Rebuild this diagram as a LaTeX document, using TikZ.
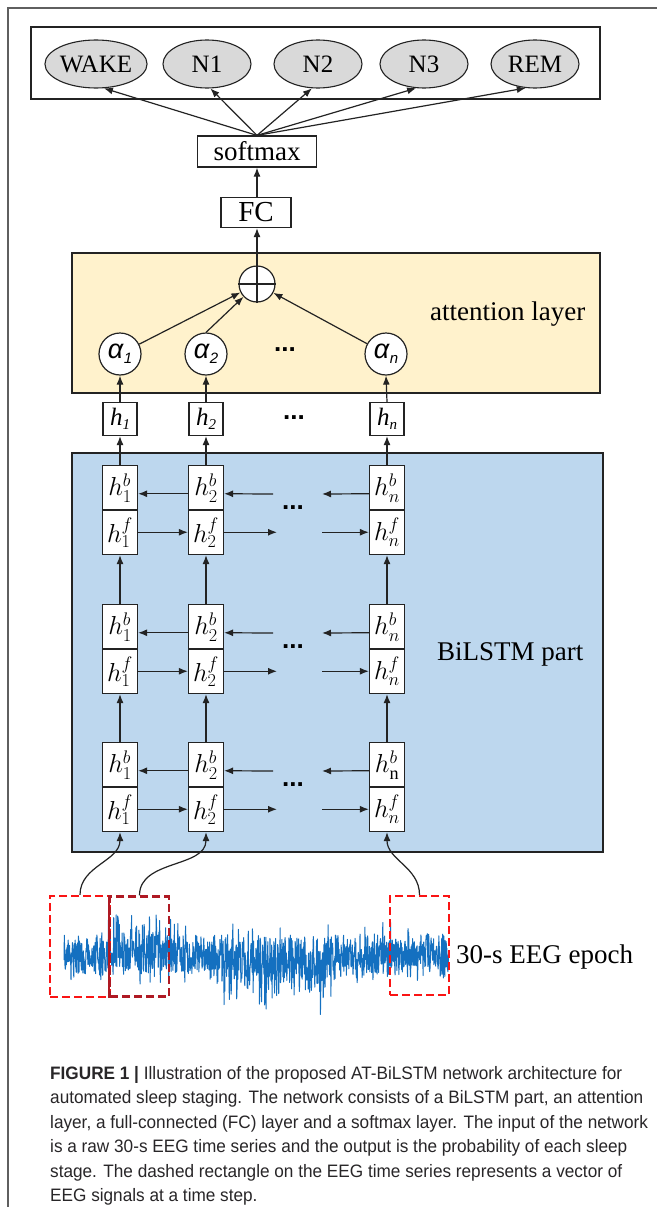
\RequirePackage{fix-cm}
\documentclass[tikz,border=0pt]{standalone}
\usepackage{fontspec}
\usepackage{graphicx}
\setmainfont{Liberation Serif}
\newfontfamily\capfont{Liberation Sans}
\newfontfamily\greekfont{Liberation Sans}
\usetikzlibrary{arrows.meta,shapes.geometric,calc}

\definecolor{framegray}{RGB}{95,95,95}
\definecolor{edge}{RGB}{35,35,35}
\definecolor{stagefill}{RGB}{217,217,217}
\definecolor{attfill}{RGB}{255,242,204}
\definecolor{lstmfill}{RGB}{189,215,238}
\definecolor{eegblue}{RGB}{20,112,192}
\definecolor{winred}{RGB}{250,20,20}
\definecolor{windark}{RGB}{175,25,35}
\definecolor{captext}{RGB}{40,38,40}

\newcommand{\fs}[1]{\fontsize{#1}{#1}\selectfont}
\newlength{\capw}

\tikzset{
  stage/.style={ellipse, draw=edge, fill=stagefill, line width=1.1pt,
    minimum width=88pt, minimum height=48pt, inner sep=0pt, font=\fs{25}},
  plainbox/.style={rectangle, draw=edge, fill=white, line width=1.2pt, inner sep=0pt},
  cell/.style={plainbox, minimum width=35pt, minimum height=44.5pt, font=\fs{26}},
  hbox/.style={plainbox, minimum width=34pt, minimum height=33pt},
  acirc/.style={circle, draw=edge, fill=white, line width=1.2pt, minimum size=42pt, inner sep=0pt},
  panel/.style={rectangle, draw=edge, line width=1.3pt, inner sep=0pt},
  link/.style={draw=edge, line width=1.2pt, -{Latex[length=9pt,width=7pt]}},
  dotsmark/.style={inner sep=0pt, font=\greekfont\bfseries\fs{26}},
  label/.style={inner sep=0pt, anchor=west, font=\fs{27}},
  win/.style={rectangle, inner sep=0pt, line width=2.4pt, dash pattern=on 8pt off 4pt},
  capline/.style={inner sep=0pt, anchor=base west, font=\capfont\fs{18}, text=captext}
}

\begin{document}
% one horizontal scale for every caption line, taken from the first line
\settowidth{\capw}{\capfont\fs{18}\textbf{FIGURE 1 |} Illustration of the proposed AT-BiLSTM network architecture for}%
\pgfmathsetmacro{\capsx}{572/\capw}%
\begin{tikzpicture}[x=1pt, y=-1pt]
\useasboundingbox (0,0) rectangle (657,1207);
\fill[white] (0,0) rectangle (657,1207);

% figure frame (left and top rules)
\draw[framegray, line width=1.2pt] (8,1207) -- (8,8) -- (657,8);

% ---------- output stages ----------
\node[panel, fill=white, minimum width=569pt, minimum height=72pt] (outbox) at (315.5,63) {};
\node[stage] (wake) at (96,64)  {WAKE};
\node[stage] (n1)   at (207,64) {N1};
\node[stage] (n2)   at (318,64) {N2};
\node[stage] (n3)   at (424,64) {N3};
\node[stage] (rem)  at (535,64) {REM};

\node[plainbox, minimum width=119pt, minimum height=31pt, font=\fs{27}] (sm) at (257,151.5) {softmax};
\node[plainbox, minimum width=70pt, minimum height=30pt, font=\fs{29}] (fc) at (256,212.5) {FC};

\draw[link] (sm.north) -- (wake.-72);
\draw[link] (sm.north) -- (n1.-82);
\draw[link] (sm.north) -- (n2.-104);
\draw[link] (sm.north) -- (n3.-108);
\draw[link] (sm.north) -- (rem.-111);
\draw[link] (fc.north -| sm.south) -- (sm.south);

% ---------- attention layer ----------
\node[panel, fill=attfill, minimum width=528pt, minimum height=140pt] (att) at (336,323) {};
\node[label] (attlabel) at (430,314) {attention layer};

\node[acirc, minimum size=36pt] (plus) at (257,284) {};
\draw[edge, line width=1.2pt] (plus.north) -- (plus.south) (plus.west) -- (plus.east);
\draw[link] (plus.north) -- (fc.south -| plus.north);

\node[acirc] (a1) at (120,354) {\greekfont\itshape\fs{27}α\kern0.5pt\raisebox{-5pt}{\fs{15}1}};
\node[acirc] (a2) at (206,354) {\greekfont\itshape\fs{27}α\kern0.5pt\raisebox{-5pt}{\fs{15}2}};
\node[acirc] (an) at (386,354) {\greekfont\itshape\fs{27}α\kern0.5pt\raisebox{-5pt}{\fs{15}n}};
\node[dotsmark] (adots) at (285,350) {...};

\draw[link] (a1) -- (plus);
\draw[link] (a2.north) -- (plus);
\draw[link] (an) -- (plus);

% hidden states fed to the attention layer
\node[hbox] (h1) at (120,419) {\itshape\fs{25}h\raisebox{-4pt}{\fs{15}1}};
\node[hbox] (h2) at (206,419) {\itshape\fs{25}h\raisebox{-4pt}{\fs{15}2}};
\node[hbox] (hn) at (387,419) {\itshape\fs{25}h\raisebox{-4pt}{\fs{15}n}};
\node[dotsmark] (hdots) at (294,418) {...};

\draw[link] (h1.north) -- (a1.south);
\draw[link] (h2.north) -- (a2.south);
\draw[link] (hn.north) -- (an.south);

% ---------- BiLSTM part ----------
\node[panel, fill=lstmfill, minimum width=531pt, minimum height=399pt] (lstm) at (337.5,652.5) {};
\node[label] (lstmlabel) at (437,654) {BiLSTM part};

\foreach \L/\yb/\nb in {1/510/n, 2/649/n, 3/787/\mathrm{n}} {
  \foreach \C/\xc in {1/120, 2/206} {
    \node[cell] (b\L\C) at (\xc,\yb-22.25) {$h^{b}_{\C}$};
    \node[cell] (f\L\C) at (\xc,\yb+22.25) {$h^{f}_{\C}$};
  }
  \node[cell] (b\L n) at (387,\yb-22.25) {$h^{b}_{\nb}$};
  \node[cell] (f\L n) at (387,\yb+22.25) {$h^{f}_{n}$};
  \node[dotsmark] (d\L) at (293,\yb-2) {...};
  % backward direction
  \coordinate (bs\L) at (273,\yb-16);
  \coordinate (be\L) at (322,\yb-16);
  \draw[link] ([yshift=-6pt]b\L2.west) -- ([yshift=-6pt]b\L1.east);
  \draw[link] (bs\L) -- ([yshift=-6pt]b\L2.east);
  \draw[link] ([yshift=-6pt]b\L n.west) -- (be\L);
  % forward direction
  \coordinate (fe\L) at (277,\yb+22.25);
  \coordinate (fs\L) at (322,\yb+22.25);
  \draw[link] (f\L1.east) -- (f\L2.west);
  \draw[link] (f\L2.east) -- (fe\L);
  \draw[link] (fs\L) -- (f\L n.west);
}

\foreach \C in {1,2,n} {
  \draw[link] (b1\C.north) -- (h\C.south);
  \draw[link] (b2\C.north) -- (f1\C.south);
  \draw[link] (b3\C.north) -- (f2\C.south);
}

% ---------- EEG input ----------
\pgfmathsetseed{4242}
\draw[eegblue, line width=1pt, line join=round]
  plot[variable=\t, samples=1100, domain=64:449]
  (\t, {955 + 20*rand + 22*rand*abs(rand)*abs(rand)
        + (\t>222)*(\t<335)*(44*abs(rand)^3 - 12*abs(rand)^3)
        - (\t>108)*(\t<175)*(22*abs(rand)^3)});

\node[win, draw=winred, minimum width=60pt, minimum height=101pt] (w1) at (80,946.5) {};
\node[win, draw=windark, minimum width=59pt, minimum height=100pt] (w2) at (139.5,946.5) {};
\draw[windark, line width=2.4pt] (w2.north west) -- (w2.south west);
\node[win, draw=winred, minimum width=59pt, minimum height=99pt] (w3) at (419.5,945.5) {};

\node[label] (eeglabel) at (456,957) {30-s EEG epoch};

\draw[link] (w1.north) to[out=90, in=-90] (f31.south);
\draw[link] (w2.north) to[out=90, in=-90] (f32.south);
\draw[link] (w3.north) to[out=90, in=-90] (f3n.south);

% ---------- caption ----------
\node[capline] (cap1) at (50,1079) {\scalebox{\capsx}[1]{\textbf{FIGURE 1 |} Illustration of the proposed AT-BiLSTM network architecture for}};
\node[capline] (cap2) at (50,1103.5) {\scalebox{\capsx}[1]{automated sleep staging. The network consists of a BiLSTM part, an attention}};
\node[capline] (cap3) at (50,1128) {\scalebox{\capsx}[1]{layer, a full-connected (FC) layer and a softmax layer. The input of the network}};
\node[capline] (cap4) at (50,1152.5) {\scalebox{\capsx}[1]{is a raw 30-s EEG time series and the output is the probability of each sleep}};
\node[capline] (cap5) at (50,1177) {\scalebox{\capsx}[1]{stage. The dashed rectangle on the EEG time series represents a vector of}};
\node[capline] (cap6) at (50,1201) {\scalebox{\capsx}[1]{EEG signals at a time step.}};
\end{tikzpicture}
\end{document}
